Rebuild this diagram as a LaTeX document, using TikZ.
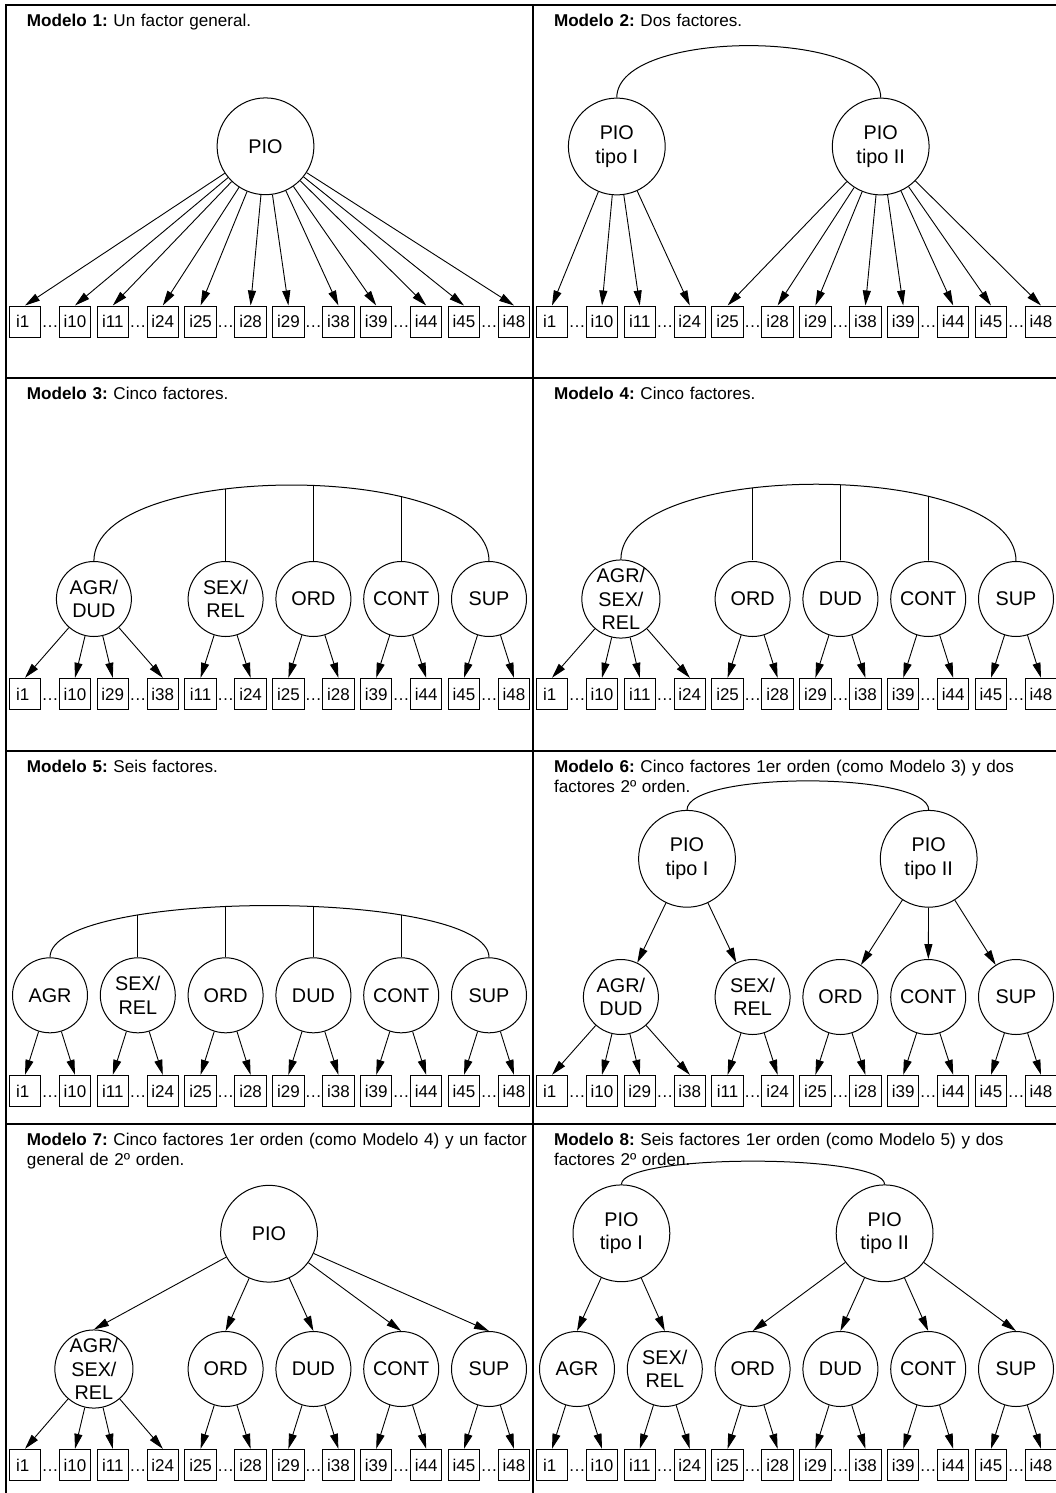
\documentclass[tikz,border=0pt]{standalone}
\usepackage{fontspec}
\setmainfont{Liberation Sans}
\usetikzlibrary{arrows.meta}
\frenchspacing

\tikzset{
  itembox/.style={draw, line width=1pt, minimum size=31.4pt, inner sep=0pt, font=\fontsize{17}{20}\selectfont},
  bigfac/.style={draw, circle, line width=1pt, minimum size=96.8pt, inner sep=0pt, align=center, font=\fontsize{19.8}{23.5}\selectfont},
  smallfac/.style={draw, circle, line width=1pt, minimum size=75pt, inner sep=0pt, align=center, font=\fontsize{19.8}{23.5}\selectfont},
  load/.style={line width=0.9pt, -{Triangle[length=15pt,width=8pt]}},
  cov/.style={line width=1pt},
  frame/.style={line width=1.2pt},
  titletext/.style={anchor=base west, inner sep=0pt, align=left, text width=530pt, font=\fontsize{17.1}{20}\selectfont},
  dotsep/.style={anchor=base, inner sep=0pt, font=\fontsize{17}{20}\selectfont},
}

% #1 prefix, #2 panel left, #3 centre y of boxes, #4 labels
\newcommand\itemrow[4]{%
  \foreach \lab [count=\i from 0] in {#4} {
    \pgfmathsetmacro\bx{#2+19+87.8*floor(\i/2)+50*mod(\i,2)}
    \node[itembox] (#1\i) at (\bx,#3) {\lab};
  }
  \foreach \i in {0,2,...,10} {
    \pgfmathtruncatemacro\j{\i+1}
    \path (#1\i.base) -- (#1\j.base) node[midway, dotsep] {…};
  }
}

\begin{document}
\begin{tikzpicture}[x=1pt, y=-1pt]
\useasboundingbox (0,0) rectangle (1056,1493);

% ---------- frames ----------
\draw[frame] (6,1493) -- (6,5) -- (1056,5);
\draw[frame] (533,5) -- (533,1493);
\draw[frame] (6,378) -- (1056,378);
\draw[frame] (6,751) -- (1056,751);
\draw[frame] (6,1124) -- (1056,1124);

% ---------- titles ----------
\node[titletext] (t1) at (26.8,26.7) {\textbf{Modelo 1:} Un factor general.};
\node[titletext] (t2) at (553.8,26.7) {\textbf{Modelo 2:} Dos factores.};
\node[titletext] (t3) at (26.8,399.7) {\textbf{Modelo 3:} Cinco factores.};
\node[titletext] (t4) at (553.8,399.7) {\textbf{Modelo 4:} Cinco factores.};
\node[titletext] (t5) at (26.8,772.7) {\textbf{Modelo 5:} Seis factores.};
\node[titletext] (t6) at (553.8,772.7) {\textbf{Modelo 6:} Cinco factores 1er orden (como Modelo 3) y dos\\factores 2º orden.};
\node[titletext] (t7) at (26.8,1145.7) {\textbf{Modelo 7:} Cinco factores 1er orden (como Modelo 4) y un factor\\general de 2º orden.};
\node[titletext] (t8) at (553.8,1145.7) {\textbf{Modelo 8:} Seis factores 1er orden (como Modelo 5) y dos\\factores 2º orden.};

% ---------- Modelo 1 ----------
\itemrow{pa}{6}{321.7}{{i1\hspace*{.28em}},i10,i11,i24,i25,i28,i29,i38,i39,i44,i45,i48}
\node[bigfac] (m1) at (265.5,146.3) {PIO};
\foreach \i in {0,...,11} \draw[load] (m1) -- (pa\i.north);

% ---------- Modelo 2 ----------
\itemrow{pb}{533}{321.7}{{i1\hspace*{.28em}},i10,i11,i24,i25,i28,i29,i38,i39,i44,i45,i48}
\node[bigfac] (m2a) at (616.8,146.5) {PIO\\tipo I};
\node[bigfac] (m2b) at (880.7,146.5) {PIO\\tipo II};
\draw[cov] (m2a.north) .. controls +(0,-69.3) and +(0,-69.3) .. (m2b.north);
\foreach \i in {0,...,3} \draw[load] (m2a) -- (pb\i.north);
\foreach \i in {4,...,11} \draw[load] (m2b) -- (pb\i.north);

% ---------- Modelo 3 ----------
\itemrow{pc}{6}{694}{{i1\hspace*{.28em}},i10,i29,i38,i11,i24,i25,i28,i39,i44,i45,i48}
\node[smallfac] (m3a) at (93.9,599) {AGR/\\DUD};
\node[smallfac] (m3b) at (225.6,599) {SEX/\\REL};
\node[smallfac] (m3c) at (313.4,599) {ORD};
\node[smallfac] (m3d) at (401.2,599) {CONT};
\node[smallfac] (m3e) at (489,599) {SUP};
\draw[cov] (m3a.north) .. controls +(0,-101.3) and +(0,-101.3) .. (m3e.north);
\begin{scope}
  \clip (m3a.north) .. controls +(0,-101.3) and +(0,-101.3) .. (m3e.north) -- cycle;
  \foreach \n in {m3b,m3c,m3d} \draw[cov] (\n.north) -- ++(0,-200);
\end{scope}
\foreach \i in {0,...,3} \draw[load] (m3a) -- (pc\i.north);
\foreach \i in {4,5} \draw[load] (m3b) -- (pc\i.north);
\foreach \i in {6,7} \draw[load] (m3c) -- (pc\i.north);
\foreach \i in {8,9} \draw[load] (m3d) -- (pc\i.north);
\foreach \i in {10,11} \draw[load] (m3e) -- (pc\i.north);

% ---------- Modelo 4 ----------
\itemrow{pd}{533}{694}{{i1\hspace*{.28em}},i10,i11,i24,i25,i28,i29,i38,i39,i44,i45,i48}
\node[smallfac] (m4a) at (620.9,599) {AGR/\\SEX/\\REL};
\node[smallfac] (m4b) at (752.6,599) {ORD};
\node[smallfac] (m4c) at (840.4,599) {DUD};
\node[smallfac] (m4d) at (928.2,599) {CONT};
\node[smallfac] (m4e) at (1016,599) {SUP};
\draw[cov] (m4a.north) .. controls +(0,-101.3) and +(0,-101.3) .. (m4e.north);
\begin{scope}
  \clip (m4a.north) .. controls +(0,-101.3) and +(0,-101.3) .. (m4e.north) -- cycle;
  \foreach \n in {m4b,m4c,m4d} \draw[cov] (\n.north) -- ++(0,-200);
\end{scope}
\foreach \i in {0,...,3} \draw[load] (m4a) -- (pd\i.north);
\foreach \i in {4,5} \draw[load] (m4b) -- (pd\i.north);
\foreach \i in {6,7} \draw[load] (m4c) -- (pd\i.north);
\foreach \i in {8,9} \draw[load] (m4d) -- (pd\i.north);
\foreach \i in {10,11} \draw[load] (m4e) -- (pd\i.north);

% ---------- Modelo 5 ----------
\itemrow{pe}{6}{1091}{{i1\hspace*{.28em}},i10,i11,i24,i25,i28,i29,i38,i39,i44,i45,i48}
\node[smallfac] (m5a) at (50,995.3) {AGR};
\node[smallfac] (m5b) at (137.8,995.3) {SEX/\\REL};
\node[smallfac] (m5c) at (225.6,995.3) {ORD};
\node[smallfac] (m5d) at (313.4,995.3) {DUD};
\node[smallfac] (m5e) at (401.2,995.3) {CONT};
\node[smallfac] (m5f) at (489,995.3) {SUP};
\draw[cov] (m5a.north) .. controls +(0,-69) and +(0,-69) .. (m5f.north);
\begin{scope}
  \clip (m5a.north) .. controls +(0,-69) and +(0,-69) .. (m5f.north) -- cycle;
  \foreach \n in {m5b,m5c,m5d,m5e} \draw[cov] (\n.north) -- ++(0,-200);
\end{scope}
\foreach \i in {0,1} \draw[load] (m5a) -- (pe\i.north);
\foreach \i in {2,3} \draw[load] (m5b) -- (pe\i.north);
\foreach \i in {4,5} \draw[load] (m5c) -- (pe\i.north);
\foreach \i in {6,7} \draw[load] (m5d) -- (pe\i.north);
\foreach \i in {8,9} \draw[load] (m5e) -- (pe\i.north);
\foreach \i in {10,11} \draw[load] (m5f) -- (pe\i.north);

% ---------- Modelo 6 ----------
\itemrow{pf}{533}{1091}{{i1\hspace*{.28em}},i10,i29,i38,i11,i24,i25,i28,i39,i44,i45,i48}
\node[bigfac] (m6p) at (687,858.8) {PIO\\tipo I};
\node[bigfac] (m6q) at (928.7,858.8) {PIO\\tipo II};
\draw[cov] (m6p.north) .. controls +(0,-38.7) and +(0,-38.7) .. (m6q.north);
\node[smallfac] (m6a) at (620.9,997) {AGR/\\DUD};
\node[smallfac] (m6b) at (752.6,997) {SEX/\\REL};
\node[smallfac] (m6c) at (840.4,997) {ORD};
\node[smallfac] (m6d) at (928.2,997) {CONT};
\node[smallfac] (m6e) at (1016,997) {SUP};
\draw[load] (m6p) -- (m6a);
\draw[load] (m6p) -- (m6b);
\draw[load] (m6q) -- (m6c);
\draw[load] (m6q) -- (m6d);
\draw[load] (m6q) -- (m6e);
\foreach \i in {0,...,3} \draw[load] (m6a) -- (pf\i.north);
\foreach \i in {4,5} \draw[load] (m6b) -- (pf\i.north);
\foreach \i in {6,7} \draw[load] (m6c) -- (pf\i.north);
\foreach \i in {8,9} \draw[load] (m6d) -- (pf\i.north);
\foreach \i in {10,11} \draw[load] (m6e) -- (pf\i.north);

% ---------- Modelo 7 ----------
\itemrow{pg}{6}{1465}{{i1\hspace*{.28em}},i10,i11,i24,i25,i28,i29,i38,i39,i44,i45,i48}
\node[bigfac] (m7p) at (269,1233.7) {PIO};
\node[smallfac] (m7a) at (93.9,1369) {AGR/\\SEX/\\REL};
\node[smallfac] (m7b) at (225.6,1369) {ORD};
\node[smallfac] (m7c) at (313.4,1369) {DUD};
\node[smallfac] (m7d) at (401.2,1369) {CONT};
\node[smallfac] (m7e) at (489,1369) {SUP};
\foreach \n in {m7a,m7b,m7c,m7d,m7e} \draw[load] (m7p) -- (\n.north);
\foreach \i in {0,...,3} \draw[load] (m7a) -- (pg\i.north);
\foreach \i in {4,5} \draw[load] (m7b) -- (pg\i.north);
\foreach \i in {6,7} \draw[load] (m7c) -- (pg\i.north);
\foreach \i in {8,9} \draw[load] (m7d) -- (pg\i.north);
\foreach \i in {10,11} \draw[load] (m7e) -- (pg\i.north);

% ---------- Modelo 8 ----------
\itemrow{ph}{533}{1465}{{i1\hspace*{.28em}},i10,i11,i24,i25,i28,i29,i38,i39,i44,i45,i48}
\node[bigfac] (m8p) at (621.4,1233.3) {PIO\\tipo I};
\node[bigfac] (m8q) at (884.6,1233.3) {PIO\\tipo II};
\draw[cov] (m8p.north) .. controls +(0,-31) and +(0,-31) .. (m8q.north);
\node[smallfac] (m8a) at (577,1369) {AGR};
\node[smallfac] (m8b) at (664.8,1369) {SEX/\\REL};
\node[smallfac] (m8c) at (752.6,1369) {ORD};
\node[smallfac] (m8d) at (840.4,1369) {DUD};
\node[smallfac] (m8e) at (928.2,1369) {CONT};
\node[smallfac] (m8f) at (1016,1369) {SUP};
\foreach \n in {m8a,m8b} \draw[load] (m8p) -- (\n.north);
\foreach \n in {m8c,m8d,m8e,m8f} \draw[load] (m8q) -- (\n.north);
\foreach \i in {0,1} \draw[load] (m8a) -- (ph\i.north);
\foreach \i in {2,3} \draw[load] (m8b) -- (ph\i.north);
\foreach \i in {4,5} \draw[load] (m8c) -- (ph\i.north);
\foreach \i in {6,7} \draw[load] (m8d) -- (ph\i.north);
\foreach \i in {8,9} \draw[load] (m8e) -- (ph\i.north);
\foreach \i in {10,11} \draw[load] (m8f) -- (ph\i.north);

\end{tikzpicture}
\end{document}
